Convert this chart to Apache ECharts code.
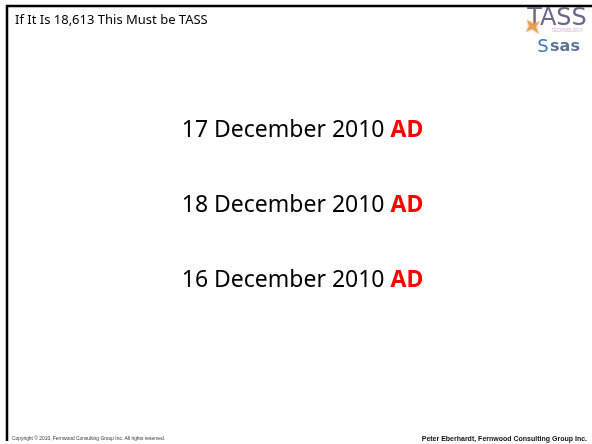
<!DOCTYPE html>
<html><head><meta charset="utf-8">
<script src="https://cdn.jsdelivr.net/npm/echarts@6/dist/echarts.min.js"></script>
<style>html,body{margin:0;padding:0;background:#fff}#c{width:592px;height:444px}</style>
</head><body><div id="c"></div>
<script>
const slideTitle = 'If It Is 18,613 This Must be TASS';
const dateLines = ['17 December 2010', '18 December 2010', '16 December 2010'];
const eraLabel = 'AD';
const footerLeft = 'Copyright \u00a9 2010, Fernwood Consulting Group Inc. All rights reserved.';
const footerRight = 'Peter Eberhardt, Fernwood Consulting Group Inc.';
const logoTop = 'TASS';
const logoSub = 'TECHNOLOGY';
const logoBottom = 'sas';

const chart = echarts.init(document.getElementById('c'), null, {renderer: 'canvas'});
const els = [];
els.push({type: 'rect', shape: {x: 0, y: 0, width: 592, height: 444}, style: {fill: '#fff'}, z: 0});
els.push({type: 'line', shape: {x1: 6, y1: 6, x2: 592, y2: 6}, style: {stroke: '#000', lineWidth: 2.5}, z: 1});
els.push({type: 'line', shape: {x1: 7, y1: 5, x2: 7, y2: 441}, style: {stroke: '#000', lineWidth: 2.5}, z: 1});
els.push({type: 'text', x: 15, y: 20, z: 2, style: {text: slideTitle, fontFamily: 'Noto Sans', fontSize: 13, fill: '#000', align: 'left', verticalAlign: 'middle', textAlign: 'left', textVerticalAlign: 'middle'}});
const rowY = [130.5, 205.5, 280.5];
dateLines.forEach((d, i) => {
  els.push({type: 'text', x: 302.5, y: rowY[i], z: 2, style: {
    text: '{n|' + d + ' }{r|' + eraLabel + '}',
    align: 'center', verticalAlign: 'middle', textAlign: 'center', textVerticalAlign: 'middle',
    rich: {
      n: {fontFamily: 'Noto Sans', fontSize: 23, fill: '#000', color: '#000'},
      r: {fontFamily: 'Noto Sans', fontSize: 23, fontWeight: 'bold', fill: '#ff0000', color: '#ff0000'}
    }
  }});
});
els.push({type: 'text', x: 12, y: 439, z: 2, style: {text: footerLeft, fontFamily: 'Liberation Sans', fontSize: 4.9, fill: '#333', align: 'left', verticalAlign: 'middle', textAlign: 'left', textVerticalAlign: 'middle'}});
els.push({type: 'text', x: 587, y: 439, z: 2, style: {text: footerRight, fontFamily: 'Liberation Sans', fontSize: 7, fontWeight: 'bold', fill: '#111', align: 'right', verticalAlign: 'middle', textAlign: 'right', textVerticalAlign: 'middle'}});
// logo
els.push({type: 'text', x: 557, y: 19, z: 3, style: {text: logoTop, fontFamily: 'DejaVu Sans', fontSize: 24, fill: '#6f6585', align: 'center', verticalAlign: 'middle', textAlign: 'center', textVerticalAlign: 'middle', shadowBlur: 3, shadowColor: 'rgba(160,120,170,0.7)'}});
els.push({type: 'polygon', shape: {points: [[527, 20], [534, 24], [540, 21], [536, 27], [539, 34], [532, 29], [526, 32], [529, 26]]}, style: {fill: '#e39a4a', opacity: 0.85, shadowBlur: 3, shadowColor: '#f0b070'}, z: 4});
els.push({type: 'text', x: 567, y: 31, z: 3, style: {text: logoSub, fontFamily: 'Liberation Sans', fontSize: 4.5, fill: '#d7a8d8', align: 'center', verticalAlign: 'middle', textAlign: 'center', textVerticalAlign: 'middle'}});
els.push({type: 'text', x: 565, y: 47, z: 3, style: {text: logoBottom, fontFamily: 'DejaVu Sans', fontSize: 16, fontWeight: 'bold', fill: '#5a7394', align: 'center', verticalAlign: 'middle', textAlign: 'center', textVerticalAlign: 'middle', shadowBlur: 2, shadowColor: 'rgba(80,110,160,0.6)'}});
els.push({type: 'text', x: 543, y: 47, z: 3, style: {text: 'S', fontFamily: 'DejaVu Sans', fontSize: 18, fill: '#3f77b8', align: 'center', verticalAlign: 'middle', textAlign: 'center', textVerticalAlign: 'middle', shadowBlur: 3, shadowColor: 'rgba(90,140,210,0.7)'}});
chart.setOption({animation: false, backgroundColor: '#fff', graphic: {elements: els}});
</script></body></html>
